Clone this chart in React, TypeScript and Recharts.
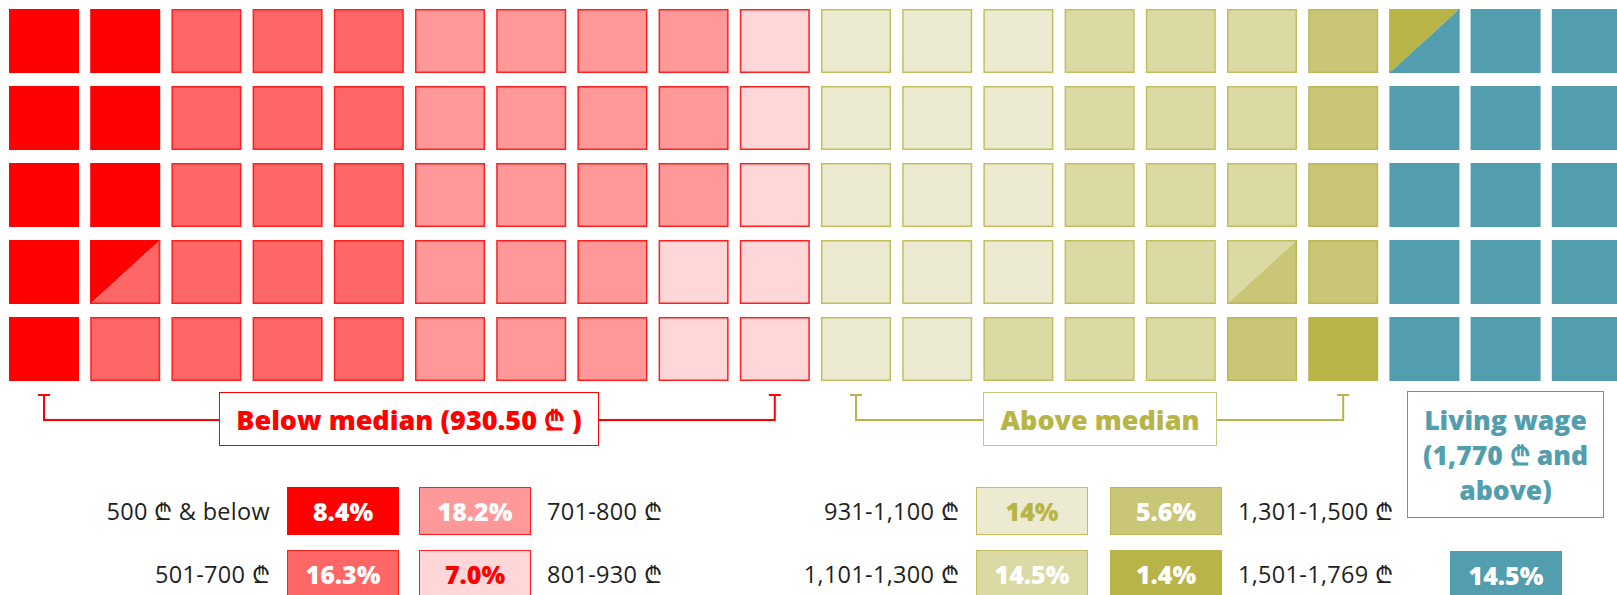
import React from 'react'
import { ScatterChart, Scatter, XAxis, YAxis } from 'recharts'

// wage bands, share of workers (%)
const bands = [
  '500 ₾ & below',
  '501-700 ₾',
  '701-800 ₾',
  '801-930 ₾',
  '931-1,100 ₾',
  '1,101-1,300 ₾',
  '1,301-1,500 ₾',
  '1,501-1,769 ₾',
  'Living wage'
]
const shares = [8.4, 16.3, 18.2, 7.0, 14, 14.5, 5.6, 1.4, 14.5]
const shareLabels = ['8.4%', '16.3%', '18.2%', '7.0%', '14%', '14.5%', '5.6%', '1.4%', '14.5%']
const belowLabel = 'Below median (930.50 ₾ )'
const aboveLabel = 'Above median'
const livingLines = ['Living wage', '(1,770 ₾ and', 'above)']

const FILL = ['#ff0000', '#ff6666', '#ff9999', '#ffd7d9', '#ecebd1', '#dcdaa4', '#c9c776', '#b8b447', '#529eae']
const STROKE = ['#ff0000', '#ff1f1f', '#ff1f1f', '#ff1f1f', '#c3bf5e', '#c3bf5e', '#bcb856', '#b8b447', '#529eae']
const TEXT = ['#fff', '#fff', '#fff', '#ff0000', '#b8b447', '#fff', '#fff', '#fff', '#fff']

const W = 1617
const H = 595
const ROWS = 5
const COL0 = 44
const COL_STEP = 81.2
const ROW0 = 41
const ROW_STEP = 77
const CELL_W = 70
const CELL_H = 64

// 100 cells, each split in two halves; shares rounded to the nearest half cell
const halves: number[] = []
shares.forEach((s, i) => {
  const n = Math.round(s * 2)
  for (let k = 0; k < n; k++) halves.push(i)
})
const cells = Array.from({ length: Math.floor(halves.length / 2) }, (_, i) => ({
  x: Math.floor(i / ROWS),
  y: i % ROWS,
  a: halves[2 * i],
  b: halves[2 * i + 1]
}))

const colX = (c: number) => COL0 + c * COL_STEP

const WaffleCell = (props: any) => {
  const { cx, cy, payload } = props
  const x0 = cx - CELL_W / 2
  const y0 = cy - CELL_H / 2
  const x1 = x0 + CELL_W
  const y1 = y0 + CELL_H
  const { a, b } = payload
  if (a === b) {
    return (
      <rect
        x={x0 + 0.75}
        y={y0 + 0.75}
        width={CELL_W - 1.5}
        height={CELL_H - 1.5}
        fill={FILL[a]}
        stroke={STROKE[a]}
        strokeWidth={1.5}
      />
    )
  }
  return (
    <g>
      <path d={`M${x0},${y0}L${x1},${y0}L${x0},${y1}Z`} fill={FILL[a]} />
      <path d={`M${x1},${y0}L${x1},${y1}L${x0},${y1}Z`} fill={FILL[b]} />
      <path d={`M${x0 + 0.75},${y1}L${x0 + 0.75},${y0 + 0.75}L${x1},${y0 + 0.75}`} fill="none" stroke={STROKE[a]} strokeWidth={1.5} />
      <path d={`M${x1 - 0.75},${y0}L${x1 - 0.75},${y1 - 0.75}L${x0},${y1 - 0.75}`} fill="none" stroke={STROKE[b]} strokeWidth={1.5} />
    </g>
  )
}

const FONT = '"Open Sans", "DejaVu Sans", sans-serif'

function Bracket({ left, right, boxL, boxR, color }: any) {
  const y = 420
  return (
    <g stroke={color} strokeWidth={2} fill="none">
      <path d={`M${left - 6},395H${left + 6}M${left},395V${y}H${boxL}`} />
      <path d={`M${right - 6},395H${right + 6}M${right},395V${y}H${boxR}`} />
    </g>
  )
}

function ShareBox({ i, x, y }: { i: number; x: number; y: number }) {
  return (
    <div
      style={{
        position: 'absolute',
        left: x,
        top: y,
        width: 112,
        height: 48,
        boxSizing: 'border-box',
        background: FILL[i],
        border: `1.5px solid ${i === 0 || i >= 7 ? FILL[i] : STROKE[i]}`,
        color: TEXT[i],
        fontWeight: 800,
        fontSize: 25,
        display: 'flex',
        alignItems: 'center',
        justifyContent: 'center'
      }}
    >
      {shareLabels[i]}
    </div>
  )
}

function BandLabel({ i, x, y, align }: { i: number; x: number; y: number; align: 'left' | 'right' }) {
  const style: React.CSSProperties = {
    position: 'absolute',
    top: y - 17,
    height: 34,
    lineHeight: '34px',
    fontSize: 23.5,
    letterSpacing: 0.3,
    color: '#231f20',
    whiteSpace: 'nowrap'
  }
  if (align === 'right') {
    style.right = W - x
    style.textAlign = 'right'
  } else {
    style.left = x
  }
  return <div style={style}>{bands[i]}</div>
}

const groupBox: React.CSSProperties = {
  position: 'absolute',
  top: 392,
  height: 54,
  boxSizing: 'border-box',
  fontWeight: 800,
  fontSize: 27,
  display: 'flex',
  alignItems: 'center',
  justifyContent: 'center',
  whiteSpace: 'nowrap'
}

export default function App() {
  return (
    <div style={{ position: 'absolute', left: 0, top: 0, width: W, height: H, overflow: 'hidden', background: '#fff', fontFamily: FONT }}>
      <ScatterChart width={W} height={H} margin={{ top: 0, right: 0, bottom: 0, left: 0 }}>
        <XAxis type="number" dataKey="x" hide allowDataOverflow domain={[-COL0 / COL_STEP, (W - COL0) / COL_STEP]} />
        <YAxis type="number" dataKey="y" hide reversed allowDataOverflow domain={[-ROW0 / ROW_STEP, (H - ROW0) / ROW_STEP]} />
        <Scatter data={cells} shape={WaffleCell} isAnimationActive={false} />
      </ScatterChart>

      <svg width={W} height={H} style={{ position: 'absolute', left: 0, top: 0 }}>
        <Bracket left={colX(0)} right={colX(9)} boxL={219} boxR={598} color="#ff0000" />
        <Bracket left={colX(10)} right={colX(16)} boxL={983} boxR={1216} color="#b8b447" />
      </svg>

      <div style={{ ...groupBox, left: 219, width: 380, border: '1.5px solid #ff0000', color: '#ff0000' }}>
        {belowLabel}
      </div>
      <div style={{ ...groupBox, left: 983, width: 234, border: '1.5px solid #c8c57c', color: '#b8b447' }}>
        {aboveLabel}
      </div>
      <div style={{ position: 'absolute', left: 1407, top: 391, width: 197, height: 127, boxSizing: 'border-box', border: '1.5px solid #529eae', color: '#529eae', fontWeight: 800, fontSize: 26.5, textAlign: 'center', paddingTop: 11, lineHeight: '35px' }}>
        {livingLines.map((l) => (
          <div key={l} style={{ whiteSpace: 'nowrap' }}>{l}</div>
        ))}
      </div>

      <BandLabel i={0} x={270} y={511} align="right" />
      <ShareBox i={0} x={287} y={487} />
      <ShareBox i={2} x={419} y={487} />
      <BandLabel i={2} x={547} y={511} align="left" />
      <BandLabel i={1} x={270} y={574} align="right" />
      <ShareBox i={1} x={287} y={550} />
      <ShareBox i={3} x={419} y={550} />
      <BandLabel i={3} x={547} y={574} align="left" />

      <BandLabel i={4} x={959} y={511} align="right" />
      <ShareBox i={4} x={976} y={487} />
      <ShareBox i={6} x={1110} y={487} />
      <BandLabel i={6} x={1238} y={511} align="left" />
      <BandLabel i={5} x={959} y={574} align="right" />
      <ShareBox i={5} x={976} y={550} />
      <ShareBox i={7} x={1110} y={550} />
      <BandLabel i={7} x={1238} y={574} align="left" />

      <ShareBox i={8} x={1450} y={551} />
    </div>
  )
}
